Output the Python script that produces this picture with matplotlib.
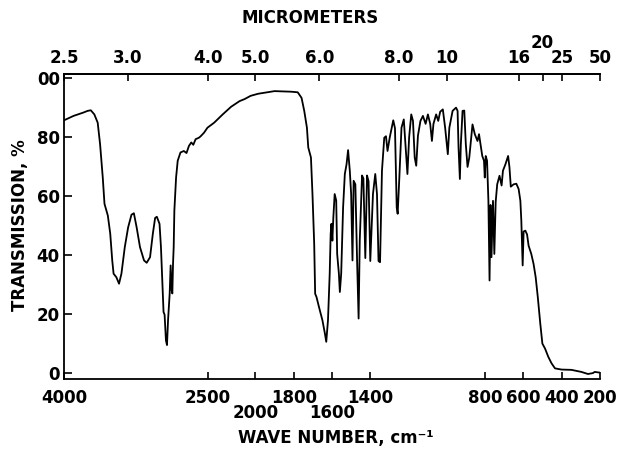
import numpy as np
import matplotlib
matplotlib.use("Agg")
import matplotlib.pyplot as plt

# ---- data ----
wavenumber = [4000, 3900, 3800, 3753, 3720, 3683, 3648, 3623, 3595, 3577, 3542, 3517,
              3496, 3482, 3453, 3425, 3400, 3365, 3330, 3295, 3270, 3241, 3206, 3164,
              3136, 3101, 3072, 3048, 3030, 3002, 2987, 2970, 2960, 2949, 2935, 2924,
              2913, 2896, 2886, 2875, 2868, 2861, 2854, 2847, 2829, 2812, 2783, 2748,
              2720, 2695, 2670, 2649, 2625, 2590, 2572, 2537, 2501, 2431, 2342, 2254,
              2166, 2113, 2050, 1986, 1900, 1814, 1779, 1759, 1745, 1731, 1724, 1710,
              1702, 1693, 1688, 1681, 1668, 1650, 1637, 1630, 1621, 1612, 1607, 1603,
              1598, 1593, 1586, 1578, 1573, 1564, 1559, 1552, 1542, 1533, 1524, 1516,
              1507, 1500, 1493, 1487, 1478, 1469, 1461, 1455, 1443, 1436, 1426, 1417,
              1409, 1400, 1386, 1374, 1365, 1357, 1349, 1339, 1327, 1318, 1310, 1298,
              1280, 1271, 1262, 1257, 1248, 1237, 1225, 1214, 1206, 1197, 1186, 1177,
              1168, 1160, 1151, 1138, 1125, 1111, 1099, 1087, 1078, 1070, 1056, 1045,
              1035, 1021, 1009, 995, 987, 970, 952, 944, 939, 932, 927, 918, 909, 901,
              892, 883, 866, 854, 840, 832, 815, 806, 802, 797, 790, 783, 777, 772,
              767, 759, 752, 745, 737, 725, 714, 707, 694, 680, 673, 666, 651, 637,
              625, 616, 611, 607, 604, 599, 590, 581, 573, 559, 547, 536, 525, 512,
              501, 487, 470, 453, 435, 401, 349, 297, 263, 237, 228, 205]
transmission = [85.7, 87.2, 88.3, 88.9, 89.1, 87.7, 84.9, 77.6, 66.3, 57.4, 53.4, 47.3,
                38.2, 33.7, 32.5, 30.3, 33.7, 42.7, 49.4, 53.7, 54.2, 49.4, 42.7, 38.2,
                37.4, 39.3, 47.2, 52.6, 53.0, 50.6, 42.7, 29.2, 20.7, 19.8, 11.1, 9.5,
                17.9, 26.9, 36.5, 28.0, 27.0, 37.0, 42.7, 55.1, 66.3, 72.0, 74.8, 75.3,
                74.6, 77.0, 78.2, 77.4, 79.3, 79.8, 80.3, 81.5, 83.2, 84.9, 87.7, 90.3,
                92.2, 92.9, 94.0, 94.7, 95.6, 95.4, 95.2, 93.3, 88.9, 83.2, 76.5, 73.1,
                60.7, 43.8, 26.9, 25.8, 22.4, 17.9, 13.4, 10.6, 17.9, 33.7, 47.2, 50.6,
                44.9, 52.8, 60.7, 58.5, 40.4, 33.7, 27.5, 33.7, 56.2, 67.5, 70.8, 75.6,
                68.6, 60.7, 38.2, 65.2, 64.0, 38.2, 18.5, 45.0, 67.0, 66.0, 39.0, 67.0,
                65.0, 38.0, 60.7, 67.5, 60.7, 38.0, 37.6, 68.6, 79.8, 80.3, 75.3, 80.0,
                85.7, 83.0, 56.2, 54.0, 66.6, 83.2, 86.0, 75.3, 67.5, 80.0, 87.7, 85.5,
                73.1, 70.3, 80.5, 85.5, 87.2, 84.5, 87.7, 84.5, 78.7, 84.5, 87.7, 85.5,
                88.6, 89.4, 83.2, 74.2, 83.2, 88.9, 90.0, 88.9, 76.5, 65.8, 77.5, 88.9, 89.0, 77.6,
                69.9, 73.0, 84.3, 81.0, 78.7, 81.0, 73.6, 72.0, 66.3, 73.6, 72.0, 58.4, 31.4, 57.0,
                39.3, 58.4, 40.4, 58.0, 64.0, 66.9, 63.6, 68.6, 70.8, 73.6, 69.8, 63.2, 64.0, 64.2,
                62.4, 58.4, 51.7, 42.7, 36.5, 48.0, 48.3, 47.0, 43.2, 40.4, 37.0, 32.5, 25.8, 16.8,
                10.0, 8.3, 5.5, 3.3, 1.6, 1.2, 1.1, 0.4, -0.3, 0.0, 0.4, 0.2]

bottom_ticks = [4000, 2500, 2000, 1800, 1600, 1400, 800, 600, 400, 200]
bottom_labels = ["4000", "2500", "", "1800", "", "1400", "800", "600", "400", "200"]
bottom_low_ticks = [2000, 1600]
bottom_low_labels = ["2000", "1600"]
micrometers = [2.5, 3.0, 4.0, 5.0, 6.0, 8.0, 10, 16, 20, 25, 50]
micrometer_labels = ["2.5", "3.0", "4.0", "5.0", "6.0", "8.0", "10", "16", "", "25", "50"]
raised_micrometer = 20
y_ticks = [0, 20, 40, 60, 80, 100]
y_labels = ["0", "20", "40", "60", "80", "00"]


# two-speed wavenumber scale: 4000-2000 drawn at half the scale of 2000-200
def fwd(w):
    w = np.asarray(w, dtype=float)
    return np.where(w <= 2000, w, 2000 + (w - 2000) * 0.5)


def inv(u):
    u = np.asarray(u, dtype=float)
    return np.where(u <= 2000, u, 2000 + (u - 2000) * 2.0)


plt.rcParams["font.family"] = ["DejaVu Sans"]
plt.rcParams["font.weight"] = "bold"

fig = plt.figure(figsize=(6.21, 4.51), dpi=100)
ax = fig.add_axes([64 / 621, 1 - 379 / 451, (600 - 64) / 621, (379 - 74) / 451])
ax.set_xscale("function", functions=(fwd, inv))
ax.set_xlim(4000, 200)
ax.set_ylim(-2.0, 101.4)

ax.plot(wavenumber, transmission, color="black", lw=1.3, solid_joinstyle="round")

for s in ["left", "bottom", "top"]:
    ax.spines[s].set_linewidth(1.3)
ax.spines["right"].set_visible(False)

ax.set_xticks(bottom_ticks)
ax.set_xticklabels(bottom_labels, fontsize=12, fontweight="bold")
for wn, lab in zip(bottom_low_ticks, bottom_low_labels):
    ax.annotate(lab, xy=(wn, 0), xycoords=("data", "axes fraction"),
                xytext=(0, -24.5), textcoords="offset points",
                ha="center", va="center", fontsize=12, fontweight="bold")
ax.set_yticks(y_ticks)
ax.set_yticklabels(y_labels, fontsize=12, fontweight="bold")
ax.tick_params(axis="x", direction="in", length=5, width=1.2, pad=7)
ax.tick_params(axis="y", direction="in", length=6, width=1.2, pad=3)
ax.minorticks_off()

# top micrometer axis on the same two-speed wavenumber scale
ax2 = fig.add_axes(ax.get_position(), frameon=True)
ax2.patch.set_visible(False)
ax2.set_xscale("function", functions=(fwd, inv))
ax2.set_xlim(4000, 200)
ax2.set_ylim(ax.get_ylim())
ax2.xaxis.set_ticks_position("top")
ax2.xaxis.set_label_position("top")
ax2.set_yticks([])
ax2.set_xticks([1e4 / m for m in micrometers])
ax2.set_xticklabels(micrometer_labels, fontsize=12, fontweight="bold")
ax2.tick_params(axis="x", direction="in", length=5, width=1.2, pad=5)
ax2.minorticks_off()
for s in ["left", "bottom", "right"]:
    ax2.spines[s].set_visible(False)
ax2.spines["top"].set_linewidth(1.3)
ax2.annotate(str(raised_micrometer), xy=(1e4 / raised_micrometer, 1),
             xycoords=("data", "axes fraction"), xytext=(0, 22.5),
             textcoords="offset points", ha="center", va="center",
             fontsize=12, fontweight="bold")

fig.text(310 / 621, 1 - 18 / 451, "MICROMETERS", ha="center", va="center",
         fontsize=12, fontweight="bold")
fig.text(336 / 621, 1 - 438 / 451, "WAVE NUMBER, cm\u207b\u00b9", ha="center", va="center",
         fontsize=12, fontweight="bold")
fig.text(20 / 621, 1 - 225 / 451, "TRANSMISSION, %", ha="center", va="center",
         rotation=90, fontsize=12, fontweight="bold")

fig.savefig("out.png", dpi=100)
